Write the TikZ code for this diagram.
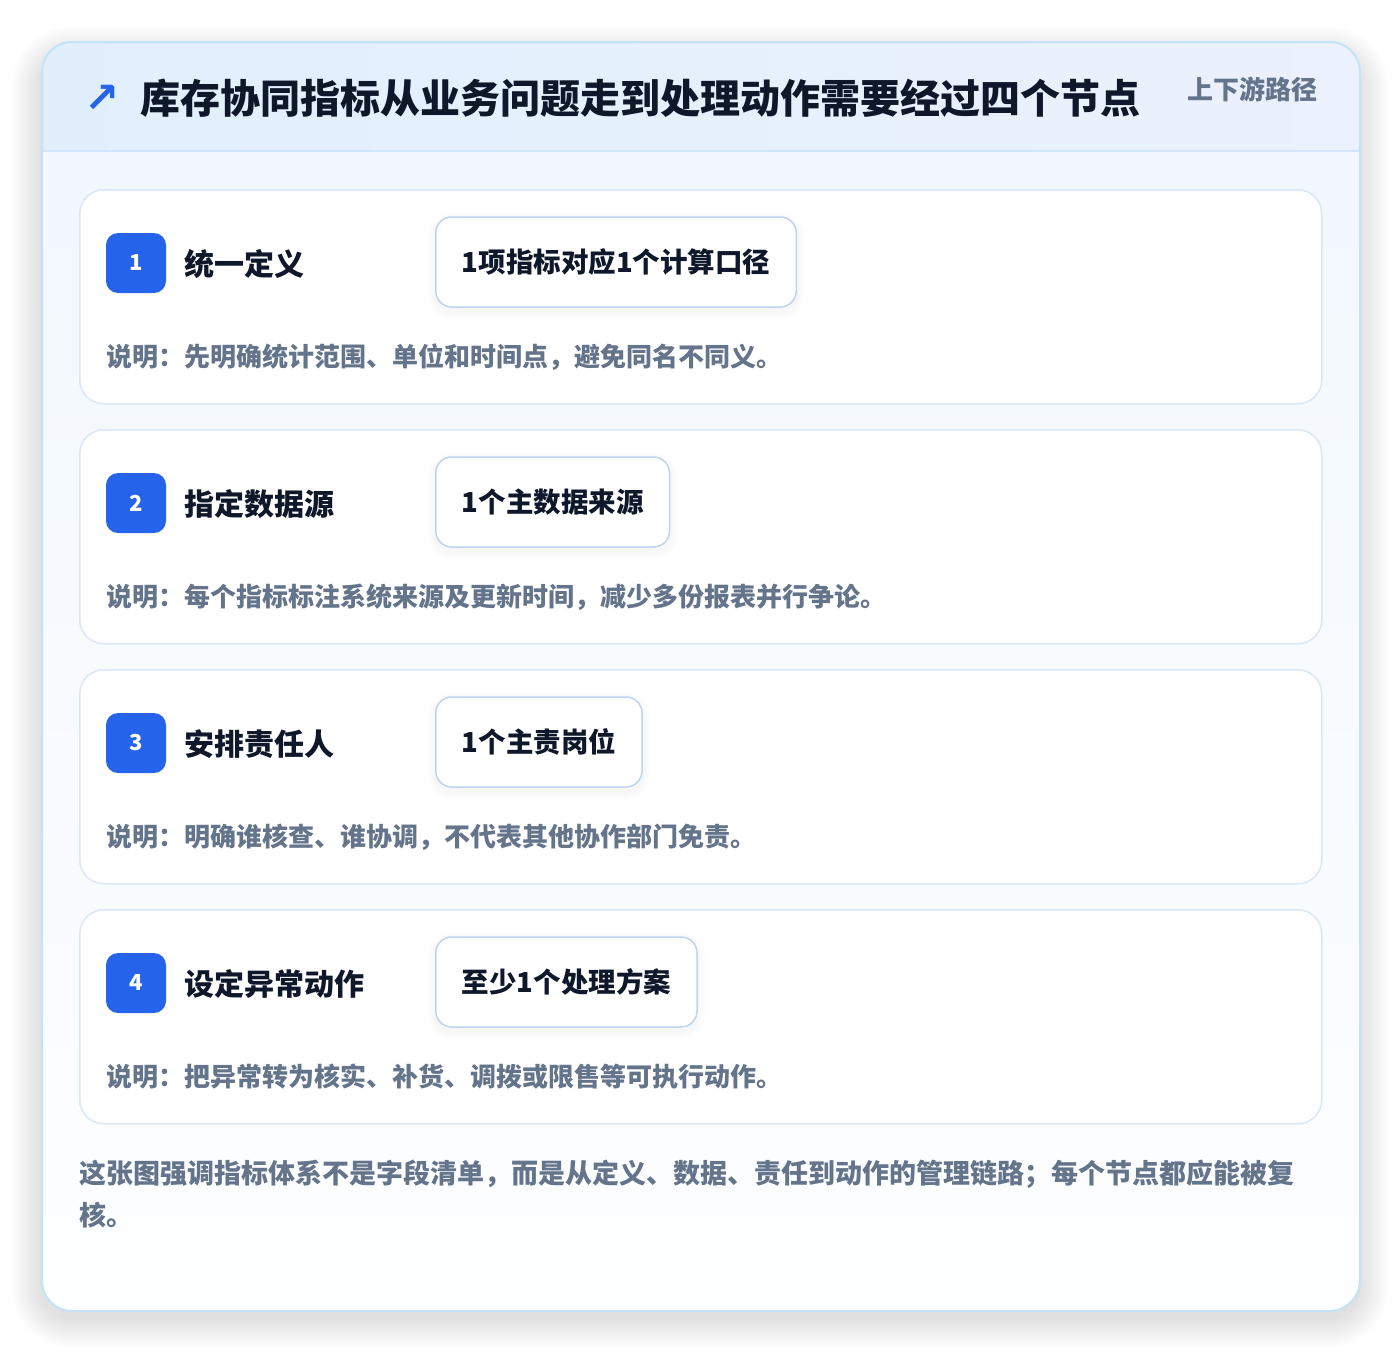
\documentclass[tikz,border=0pt]{standalone}
\usepackage{fontspec}
\setmainfont{Noto Sans CJK SC}
\newfontfamily\symfont{DejaVu Sans}
\usetikzlibrary{calc}
\definecolor{outerborder}{HTML}{C5E3F6}
\definecolor{headA}{HTML}{E1EFFD}
\definecolor{headB}{HTML}{EBF1FD}
\definecolor{headline}{HTML}{D3E6F7}
\definecolor{cardborder}{HTML}{DAE7F7}
\definecolor{chipborder}{HTML}{BCD5F0}
\definecolor{badgeblue}{HTML}{2563EB}
\definecolor{darktext}{HTML}{0F172A}
\definecolor{graytext}{HTML}{64748B}
\definecolor{bodytop}{HTML}{F2F8FE}
\definecolor{bodybot}{HTML}{FDFEFF}
\tikzset{
  stepcard/.style={draw=cardborder, line width=1.5pt, fill=white, rounded corners=24pt},
  badgebox/.style={fill=badgeblue, rounded corners=12pt, minimum width=60pt, minimum height=60pt, inner sep=0pt,
    text=white, font=\fontsize{22}{22}\selectfont\bfseries},
  steptitle/.style={anchor=west, inner sep=0pt, text=darktext, font=\fontsize{30}{30}\selectfont\bfseries},
  chipbox/.style={anchor=west, draw=chipborder, line width=1.5pt, fill=white, rounded corners=16pt,
    minimum height=90pt, inner xsep=26pt, text=darktext, font=\fontsize{27.5}{27.5}\selectfont\bfseries},
  desctext/.style={anchor=west, inner sep=0pt, text=graytext, font=\fontsize{26}{26}\selectfont\bfseries},
}
\begin{document}
\begin{tikzpicture}[x=1pt,y=-1pt]
\useasboundingbox (0,0) rectangle (1400,1352);
\fill[white] (0,0) rectangle (1400,1352);
% outer shadow (soft)
\foreach \i in {1,...,30}{
  \fill[black, opacity=0.0035, rounded corners=30pt+\i pt] ($(41,56)+(-\i,-\i)$) rectangle ($(1359,1318)+(\i,\i)$);
}
% outer card
\begin{scope}
  \clip[rounded corners=30pt] (41,41) rectangle (1359,1310);
  \shade[top color=bodytop, bottom color=bodybot] (41,151) rectangle (1359,1310);
  \shade[left color=headA, right color=headB] (41,41) rectangle (1359,151);
  \draw[headline, line width=1.5pt] (41,151) -- (1359,151);
\end{scope}
\node[draw=outerborder, line width=2pt, rounded corners=30pt, minimum width=1318pt, minimum height=1269pt, inner sep=0pt, anchor=north west] (outer) at (41,41) {};
% header
\node[anchor=center, inner sep=0pt, text=badgeblue, font=\symfont\fontsize{42}{42}\selectfont\bfseries] (icon) at (102,99) {↗};
\node[anchor=west, inner sep=0pt, text=darktext, font=\fontsize{40}{40}\selectfont\bfseries] (title) at (140,98) {库存协同指标从业务问题走到处理动作需要经过四个节点};
\node[anchor=east, inner sep=0pt, text=graytext, font=\fontsize{26}{26}\selectfont\bfseries] (route) at (1318,89) {上下游路径};
% steps
\foreach \n/\t/\c/\d [count=\k from 0] in {
  1/统一定义/1项指标对应1个计算口径/说明：先明确统计范围、单位和时间点，避免同名不同义。,
  2/指定数据源/1个主数据来源/说明：每个指标标注系统来源及更新时间，减少多份报表并行争论。,
  3/安排责任人/1个主责岗位/说明：明确谁核查、谁协调，不代表其他协作部门免责。,
  4/设定异常动作/至少1个处理方案/说明：把异常转为核实、补货、调拨或限售等可执行动作。}{
  \pgfmathsetmacro{\oy}{240*\k}
  \node[stepcard, anchor=north west, minimum width=1242pt, minimum height=214pt, inner sep=0pt] (card\n) at (79,189+\oy) {};
  \node[chipbox, draw=none, fill=none, text=white, opacity=0] (ghost\n) at (435,262+\oy) {\c};
  \foreach \j in {1,...,8}{
    \fill[black, opacity=0.004, rounded corners=16pt+\j pt] ($(ghost\n.south west)+(-\j,\j+4)$) rectangle ($(ghost\n.north east)+(\j,-\j+4)$);
  }
  \node[badgebox] (badge\n) at (136,263+\oy) {\n};
  \node[steptitle] (title\n) at (184,264+\oy) {\t};
  \node[chipbox] (chip\n) at (435,262+\oy) {\c};
  \node[desctext] (desc\n) at (106,357+\oy) {\d};
}
% footer
\node[anchor=north west, inner sep=0pt, align=left, text=graytext, font=\fontsize{27}{42}\selectfont\bfseries] (footer) at (79,1160) {这张图强调指标体系不是字段清单，而是从定义、数据、责任到动作的管理链路；每个节点都应能被复\\核。};
\end{tikzpicture}
\end{document}
